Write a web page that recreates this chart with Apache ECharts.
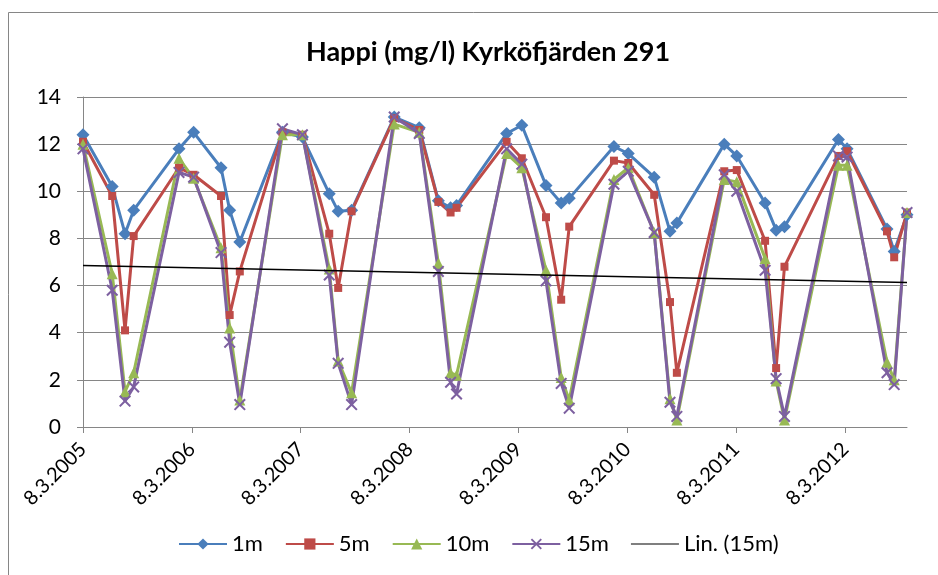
<!DOCTYPE html>
<html>
<head>
<meta charset="utf-8">
<title>Happi (mg/l) Kyrköfjärden 291</title>
<script src="https://cdn.jsdelivr.net/npm/echarts@6/dist/echarts.min.js"></script>
<style>
  html, body { margin: 0; padding: 0; background: #fff; }
  #chart { width: 938px; height: 575px; }
</style>
</head>
<body>
<div id="chart"></div>
<script>
// sampling dates (d.m.yyyy)
var dates = [
  '8.3.2005', '14.6.2005', '27.7.2005', '25.8.2005',
  '24.1.2006', '14.3.2006', '14.6.2006', '13.7.2006', '16.8.2006',
  '6.1.2007', '14.3.2007', '12.6.2007', '12.7.2007', '26.8.2007',
  '16.1.2008', '9.4.2008', '12.6.2008', '23.7.2008', '12.8.2008',
  '27.1.2009', '19.3.2009', '8.6.2009', '29.7.2009', '25.8.2009',
  '22.1.2010', '11.3.2010', '6.6.2010', '29.7.2010', '21.8.2010',
  '27.1.2011', '10.3.2011', '13.6.2011', '20.7.2011', '17.8.2011',
  '14.2.2012', '14.3.2012', '26.7.2012', '19.8.2012', '1.10.2012'
];
var depth1m = [12.4, 10.2, 8.2, 9.2, 11.8, 12.5, 11.0, 9.2, 7.85, 12.5, 12.3, 9.9, 9.15, 9.2,
  13.15, 12.7, 9.6, 9.3, 9.4, 12.45, 12.8, 10.25, 9.5, 9.7, 11.9, 11.6, 10.6, 8.3, 8.65,
  12.0, 11.5, 9.5, 8.35, 8.5, 12.2, 11.8, 8.4, 7.45, 9.0];
var depth5m = [12.1, 9.8, 4.1, 8.1, 11.0, 10.7, 9.8, 4.75, 6.6, 12.5, 12.4, 8.2, 5.9, 9.15,
  13.1, 12.6, 9.55, 9.1, 9.3, 12.1, 11.4, 8.9, 5.4, 8.5, 11.3, 11.2, 9.85, 5.3, 2.3,
  10.85, 10.9, 7.9, 2.5, 6.8, 11.5, 11.7, 8.3, 7.2, 9.1];
var depth10m = [12.0, 6.5, 1.5, 2.3, 11.4, 10.55, 7.6, 4.2, 1.15, 12.4, 12.4, 6.7, 2.8, 1.45,
  12.85, 12.5, 6.95, 2.3, 2.2, 11.6, 11.0, 6.65, 2.1, 1.15, 10.5, 11.0, 8.25, 1.2, 0.3,
  10.5, 10.4, 7.15, 1.95, 0.3, 11.1, 11.1, 2.75, 2.0, 9.1];
var depth15m = [11.8, 5.8, 1.1, 1.7, 10.8, 10.6, 7.4, 3.6, 0.95, 12.65, 12.4, 6.45, 2.7, 0.95,
  13.15, 12.45, 6.6, 1.9, 1.4, 11.8, 11.15, 6.2, 1.85, 0.8, 10.3, 10.85, 8.25, 1.05, 0.45,
  10.7, 10.0, 6.65, 2.05, 0.45, 11.5, 11.45, 2.3, 1.8, 9.1];
// x axis labels
var xTicks = ['8.3.2005', '8.3.2006', '8.3.2007', '8.3.2008', '8.3.2009', '8.3.2010', '8.3.2011', '8.3.2012'];
var yTicks = [0, 2, 4, 6, 8, 10, 12, 14];

(function () {
  // dates -> day number (UTC, so no DST jumps)
  function toDay(s) {
    var p = s.split('.');
    return Date.UTC(+p[2], +p[1] - 1, +p[0]) / 864e5;
  }
  function dayLabel(v) {
    var d = new Date(Math.round(v) * 864e5);
    return d.getUTCDate() + '.' + (d.getUTCMonth() + 1) + '.' + d.getUTCFullYear();
  }
  var days = dates.map(toDay);
  function pairs(vals) {
    return vals.map(function (v, i) { return [days[i], v]; });
  }

  // linear trend of the 15m series (Excel "Lin.")
  var n = days.length, sx = 0, sy = 0, sxx = 0, sxy = 0;
  for (var i = 0; i < n; i++) {
    sx += days[i]; sy += depth15m[i]; sxx += days[i] * days[i]; sxy += days[i] * depth15m[i];
  }
  var b = (n * sxy - sx * sy) / (n * sxx - sx * sx);
  var a = (sy - b * sx) / n;
  var dMin = days[0], dMax = days[n - 1];
  var trend = [[dMin, a + b * dMin], [dMax, a + b * dMax]];

  var font = 'Lato';
  var gridColor = '#868686';
  var crossPath = 'path://M0,1.2 L1.2,0 L5,3.8 L8.8,0 L10,1.2 L6.2,5 L10,8.8 L8.8,10 L5,6.2 L1.2,10 L0,8.8 L3.8,5 Z';
  // thin bar so the trend line legend shows no marker
  var flatPath = 'path://M0,0 L40,0 L40,1 L0,1 Z';
  var tickDays = xTicks.map(toDay);

  let myCharts = echarts.init(document.getElementById('chart'));
  let option = {
    animation: false,
    backgroundColor: '#fff',
    title: {
      text: 'Happi (mg/l) Kyrköfjärden 291',
      left: 483,
      top: 34,
      textAlign: 'center',
      textStyle: { fontFamily: font, fontSize: 27, fontWeight: 'bold', color: '#000' }
    },
    graphic: [{
      type: 'rect',
      shape: { x: 8.5, y: 12.5, width: 1000, height: 1000 },
      style: { fill: 'none', stroke: gridColor, lineWidth: 1 },
      silent: true
    }],
    legend: {
      left: 178,
      top: 533,
      padding: 0,
      itemWidth: 48,
      itemHeight: 14,
      itemGap: 22,
      textStyle: { fontFamily: font, fontSize: 22, color: '#000' },
      data: ['1m', '5m', '10m', '15m', { name: 'Lin. (15m)', icon: flatPath }]
    },
    grid: { left: 83, right: 31, top: 97, bottom: 148 },
    xAxis: {
      type: 'value',
      min: dMin,
      max: dMax,
      axisLine: { lineStyle: { color: gridColor } },
      axisTick: { show: true, length: 6, customValues: tickDays, lineStyle: { color: gridColor } },
      axisLabel: {
        customValues: tickDays,
        rotate: 45,
        margin: 19,
        fontFamily: font,
        fontSize: 20,
        color: '#000',
        formatter: dayLabel
      },
      splitLine: { show: false }
    },
    yAxis: {
      type: 'value',
      min: yTicks[0],
      max: yTicks[yTicks.length - 1],
      interval: 2,
      axisLine: { show: true, lineStyle: { color: gridColor } },
      axisTick: { show: true, length: 6, lineStyle: { color: gridColor } },
      axisLabel: { margin: 22, fontFamily: font, fontSize: 21, color: '#000' },
      splitLine: { lineStyle: { color: gridColor, width: 1 } }
    },
    series: [
      {
        name: '1m', type: 'line', data: pairs(depth1m),
        symbol: 'diamond', symbolSize: 13,
        color: '#4A7EBB',
        lineStyle: { width: 3 }
      },
      {
        name: '5m', type: 'line', data: pairs(depth5m),
        symbol: 'rect', symbolSize: 8,
        color: '#BE4B48',
        lineStyle: { width: 3 }
      },
      {
        name: '10m', type: 'line', data: pairs(depth10m),
        symbol: 'triangle', symbolSize: 11,
        color: '#98B954',
        lineStyle: { width: 3 }
      },
      {
        name: '15m', type: 'line', data: pairs(depth15m),
        symbol: crossPath, symbolSize: 12,
        color: '#7D60A0',
        lineStyle: { width: 3 }
      },
      {
        name: 'Lin. (15m)', type: 'line', data: trend,
        symbol: 'none',
        color: '#000',
        lineStyle: { width: 1.5 },
        z: 5
      }
    ]
  };
  myCharts.setOption(option);
  window.addEventListener('resize', function () {
    myCharts.resize();
  });
})();
</script>
</body>
</html>
